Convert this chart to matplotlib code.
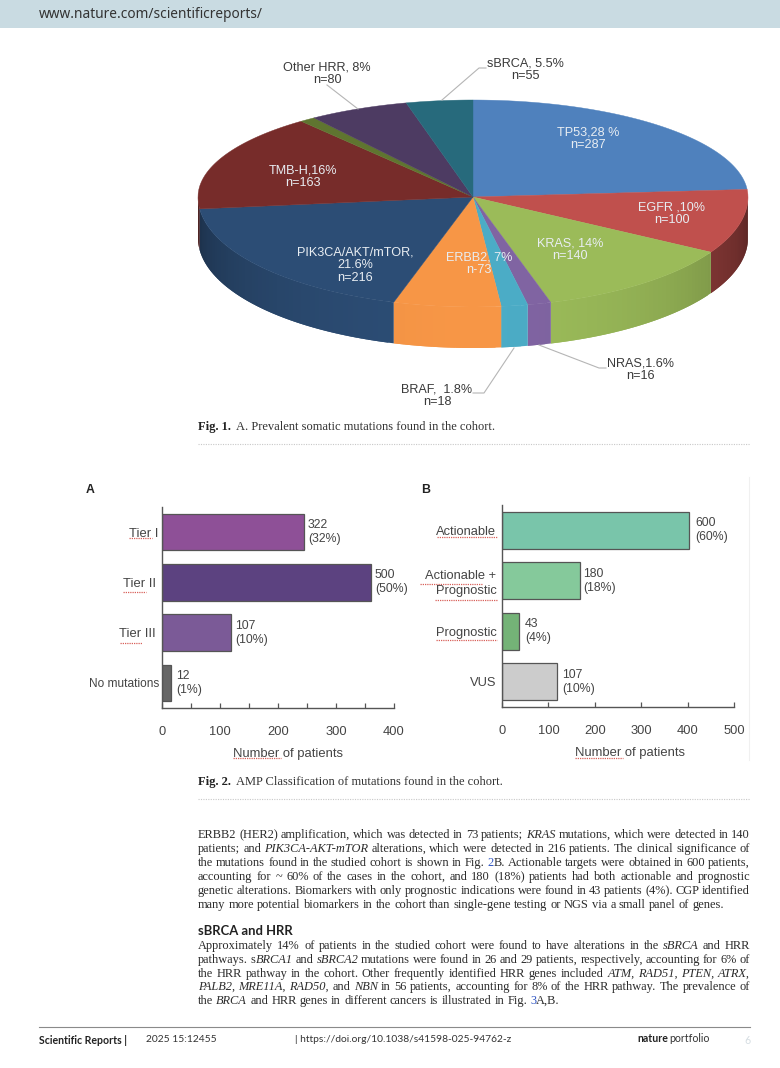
import re
import numpy as np
import matplotlib
matplotlib.use("Agg")
import matplotlib.pyplot as plt
from matplotlib.patches import Polygon, Rectangle

# pie data
pie_names = ["TP53", "EGFR", "KRAS", "NRAS", "BRAF", "ERBB2", "PIK3CA/AKT/mTOR", "TMB-H", "Other", "Other HRR", "sBRCA"]
pie_counts = [287, 100, 140, 16, 18, 73, 216, 163, 12, 80, 55]
pie_colors = ["#4f81bd", "#c0504d", "#9bbb59", "#8064a2", "#4bacc6", "#f79646",
              "#2c4d75", "#772c2a", "#5f7530", "#4d3b62", "#276a7c"]

# bar lengths as drawn on the axes, these differ from the printed labels in the figure
tier_names = ["Tier I", "Tier II", "Tier III", "No mutations"]
tier_lengths = [244, 360, 119, 16]
tier_labels = ["322\n(32%)", "500\n(50%)", "107\n(10%)", "12\n(1%)"]
tier_colors = ["#8e5097", "#5c4280", "#7b5a97", "#666666"]

class_names = ["Actionable", "Actionable +\nPrognostic", "Prognostic", "VUS"]
class_lengths = [403, 169, 37, 118]
class_labels = ["600\n(60%)", "180\n(18%)", "43\n(4%)", "107\n(10%)"]
class_colors = ["#79c5aa", "#85c99b", "#74b377", "#cccccc"]

para1 = [
    "ERBB2 (HER2) amplification, which was detected in 73 patients; *KRAS* mutations, which were detected in 140",
    "patients; and *PIK3CA-AKT-mTOR* alterations, which were detected in 216 patients. The clinical significance of",
    "the mutations found in the studied cohort is shown in Fig. {2}B. Actionable targets were obtained in 600 patients,",
    "accounting for ~ 60% of the cases in the cohort, and 180 (18%) patients had both actionable and prognostic",
    "genetic alterations. Biomarkers with only prognostic indications were found in 43 patients (4%). CGP identified",
    "many more potential biomarkers in the cohort than single-gene testing or NGS via a small panel of genes.",
]
para2 = [
    "Approximately 14% of patients in the studied cohort were found to have alterations in the *sBRCA* and HRR",
    "pathways. s*BRCA1* and *sBRCA2* mutations were found in 26 and 29 patients, respectively, accounting for 6% of",
    "the HRR pathway in the cohort. Other frequently identified HRR genes included *ATM,* *RAD51,* *PTEN,* *ATRX,*",
    "*PALB2,* *MRE11A,* *RAD50,* and *NBN* in 56 patients, accounting for 8% of the HRR pathway. The prevalence of",
    "the *BRCA* and HRR genes in different cancers is illustrated in Fig. {3}A,B.",
]

W, H = 780, 1068
fig = plt.figure(figsize=(W / 100, H / 100), dpi=100)
plt.rcParams['font.family'] = ['Liberation Sans', 'DejaVu Sans']

# whole page axes in pixel coordinates
pg = fig.add_axes([0, 0, 1, 1])
pg.set_xlim(0, W)
pg.set_ylim(H, 0)
pg.axis("off")

GREY = "#444444"
PIE_SIZE = 9.1


def box(x0, y0, x1, y1):
    return [x0 / W, 1 - y1 / H, (x1 - x0) / W, (y1 - y0) / H]


# header
pg.add_patch(Rectangle((0, 0), W, 28, color="#c9dbe2", lw=0))
pg.text(39, 14, "www.nature.com/scientificreports/", fontsize=9.85, color="#333333", va="center",
        family=["Noto Sans", "DejaVu Sans"])

# ---- 3D pie ----
cx, cy = 473, 197
rx, ry_back, ry_front = 275, 97, 110
depth = 41


def project(theta):
    # theta clockwise from 12 o'clock, back half squeezed like in a perspective view
    theta = np.asarray(theta, dtype=float)
    s, c = np.sin(theta), np.cos(theta)
    k = np.where(c > 0, 1 - 0.18 * c, 1.0)
    phi = np.where(c > 0, np.arcsin(k * s), np.pi - np.arcsin(s))
    x = cx + rx * np.sin(phi)
    y = cy - np.where(np.cos(phi) > 0, ry_back, ry_front) * np.cos(phi)
    return x, y


def shade(color, f):
    return tuple(np.array(matplotlib.colors.to_rgb(color)) * f)


edges = np.cumsum([0] + pie_counts) / sum(pie_counts) * 2 * np.pi

# side wall, only the front half can be seen
for i in range(len(pie_counts)):
    a0, a1 = max(edges[i], np.pi / 2), min(edges[i + 1], 1.5 * np.pi)
    if a1 <= a0:
        continue
    n = max(2, int((a1 - a0) / 0.02))
    ts = np.linspace(a0, a1, n + 1)
    xs, ys = project(ts)
    gain = 0.78 if pie_names[i] == "EGFR" else 1.0
    for j in range(n):
        tm = (ts[j] + ts[j + 1]) / 2
        f = (0.55 + 0.45 * abs(np.cos(tm)) ** 0.7) * gain
        # each strip runs on under the next one so no seams show
        e = min(j + 2, n)
        top = list(zip(xs[j:e + 1], ys[j:e + 1]))
        bottom = [(x, y + depth) for x, y in top[::-1]]
        pg.add_patch(Polygon(top + bottom, facecolor=shade(pie_colors[i], f), edgecolor="none"))

# top face
for i in range(len(pie_counts)):
    ts = np.linspace(edges[i], edges[i + 1], 80)
    xs, ys = project(ts)
    pts = [(cx, cy)] + list(zip(xs, ys))
    pg.add_patch(Polygon(pts, facecolor=pie_colors[i], edgecolor=pie_colors[i], lw=0.3))

white_labels = [
    (588, 139, "TP53,28 %\nn=287"),
    (672, 214, "EGFR ,10%\nn=100"),
    (570, 250, "KRAS, 14%\nn=140"),
    (479, 264, "ERBB2, 7%\nn-73"),
    (355, 265, "PIK3CA/AKT/mTOR,\n21.6%\nn=216"),
    (303, 177, "TMB-H,16%\nn=163"),
]
for x, y, s in white_labels:
    pg.text(x, y, s, color="#e8edf2", fontsize=PIE_SIZE, ha="center", va="center", linespacing=1.1)

dark_labels = [
    (327, 74, "Other HRR, 8%\nn=80"),
    (525, 70, "sBRCA, 5.5%\nn=55"),
    (640, 370, "NRAS,1.6%\nn=16"),
    (437, 396, "BRAF,  1.8%\nn=18"),
]
for x, y, s in dark_labels:
    pg.text(x, y, s, color="#3a3a3a", fontsize=PIE_SIZE, ha="center", va="center", linespacing=1.1)

leaders = [
    ([327, 358], [85, 109]),
    ([442, 479, 486], [100, 68, 68]),
    ([539, 599, 606], [345, 368, 368]),
    ([514, 484, 473], [348, 393, 393]),
]
for lx, ly in leaders:
    pg.plot(lx, ly, color="#b5b5b5", lw=0.8)

# ---- captions ----
serif = ["Liberation Serif", "DejaVu Serif"]
for y, tag, rest in [(427, "Fig. 1.", "A. Prevalent somatic mutations found in the cohort."),
                     (782, "Fig. 2.", "AMP Classification of mutations found in the cohort.")]:
    t = pg.text(198, y, tag, family=serif, fontweight="bold", fontsize=9.0, color="#222222", va="center")
    w = t.get_window_extent(fig.canvas.get_renderer()).width
    pg.text(198 + w + 5, y, rest, family=serif, fontsize=9.0, color="#333333", va="center")
pg.plot([198, 750], [444, 444], color="#c8c8c8", lw=0.8, ls=(0, (1, 1.2)))
pg.plot([198, 750], [799, 799], color="#c8c8c8", lw=0.8, ls=(0, (1, 1.2)))


# ---- bar panels ----
def bar_panel(rect, names, lengths, labels, colors, xmax, major, minor, offs, ysizes, ypads, labx):
    ax = fig.add_axes(rect)
    ax.barh(range(len(names)), lengths, height=0.725, color=colors, edgecolor="#555555", lw=0.9)
    ax.set_ylim(len(names) - 0.5, -0.5)
    ax.set_xlim(0, xmax)
    ax.set_yticks(range(len(names)), names)
    ax.set_xticks(major)
    ax.set_xticks(minor, minor=True)
    ax.tick_params(axis="y", length=0, labelcolor=GREY)
    ax.tick_params(axis="x", which="both", direction="in", length=3.5, width=0.9, color="#555555",
                   pad=13, labelsize=9.3, labelcolor=GREY)
    for tick, size, pad in zip(ax.yaxis.get_major_ticks(), ysizes, ypads):
        tick.set_pad(pad)
        tick.label1.set_fontsize(size)
        tick.label1.set_multialignment("right")
        tick.label1.set_linespacing(1.35)
    for side in ["top", "right"]:
        ax.spines[side].set_visible(False)
    for side in ["left", "bottom"]:
        ax.spines[side].set_color("#555555")
        ax.spines[side].set_linewidth(1.0)
    ax.set_xlabel("Number of patients", fontsize=9.4, color=GREY)
    ax.xaxis.set_label_coords(labx, -0.2, transform=ax.transAxes)
    ax.patch.set_alpha(0)
    for i, (v, s) in enumerate(zip(lengths, labels)):
        ax.annotate(s, xy=(v, i), xytext=(offs[i], 0), textcoords="offset points",
                    fontsize=8.8, color=GREY, va="center", ha="left", linespacing=1.2)
    return ax


bar_panel(box(162, 507, 394, 708), tier_names, tier_lengths, tier_labels, tier_colors,
          400, [0, 100, 200, 300, 400], [50, 150, 250, 350], [3.2, 3, 3, 3.5],
          [9.4, 9.4, 9.4, 8.6], [2.5, 4.5, 4.5, 2], 0.543)
bar_panel(box(502, 505, 734, 707), class_names, class_lengths, class_labels, class_colors,
          500, [0, 100, 200, 300, 400, 500], [], [4.3, 2.2, 4.2, 3.8],
          [9.3, 9.3, 9.3, 9.3], [4, 4, 4, 4], 0.552)

pg.text(90, 490, "A", fontweight="bold", fontsize=8.8, color="#222222", ha="center", va="center")
pg.text(426, 490, "B", fontweight="bold", fontsize=8.8, color="#222222", ha="center", va="center")
pg.plot([749, 749], [477, 760], color="#f0f0f0", lw=0.8)

# spell check squiggles from the original screenshot
squiggles = [(129, 152, 538), (123, 146, 592), (120, 142, 643), (233, 281, 758),
             (437, 497, 537), (420, 482, 584), (435, 497, 600), (436, 497, 640), (575, 623, 758)]
for x0, x1, y in squiggles:
    pg.plot([x0, x1], [y, y], color="#d8605a", lw=0.9, ls=(0, (1, 0.8)), zorder=5)


# ---- body text ----
def draw_line(line, y, justify=True, x0=198, x1=750, size=8.95):
    rend = fig.canvas.get_renderer()
    placed = []
    total = 0
    for word in line.split(" "):
        parts = []
        for piece in re.split(r"(\*[^*]+\*|\{[^}]+\})", word):
            if not piece:
                continue
            style, color = "normal", "#2b2b2b"
            if piece[0] == "*":
                piece, style = piece[1:-1], "italic"
            elif piece[0] == "{":
                piece, color = piece[1:-1], "#2f55c4"
            t = pg.text(0, y, piece, family=serif, fontsize=size, style=style, color=color, va="center")
            w = t.get_window_extent(rend).width
            parts.append((t, w))
            total += w
        placed.append(parts)
    gap = (x1 - x0 - total) / (len(placed) - 1) if justify else size * 100 / 72 * 0.25
    x = x0
    for parts in placed:
        for t, w in parts:
            t.set_x(x)
            x += w
        x += gap


ys1 = [835, 849, 863, 877, 891, 905]
ys2 = [946, 960, 974, 987, 1001]
for i, (line, y) in enumerate(zip(para1, ys1)):
    draw_line(line, y, justify=i < len(para1) - 1)
for i, (line, y) in enumerate(zip(para2, ys2)):
    draw_line(line, y, justify=i < len(para2) - 1)
pg.text(198, 931, "sBRCA and HRR", family=["Lato", "DejaVu Sans"], fontweight="bold", fontsize=9.4,
        color="#222222", va="center")

# ---- footer ----
foot = ["Lato", "DejaVu Sans"]
pg.plot([39, 750], [1027, 1027], color="#8a8a8a", lw=0.8)
pg.text(39, 1040, "Scientific Reports |", family=foot, fontweight="bold", fontsize=7.6, color="#222222", va="center")
pg.text(146, 1040, "2025 15:12455", family=foot, fontsize=7.4, color="#333333", va="center")
pg.text(295, 1040, "| https://doi.org/10.1038/s41598-025-94762-z", family=foot, fontsize=7.4, color="#333333", va="center")
pg.text(637, 1039, "nature", family=foot, fontweight="bold", fontsize=7.6, color="#222222", va="center")
pg.text(669, 1039, "portfolio", family=foot, fontsize=7.6, color="#333333", va="center")
pg.text(744, 1040, "6", family=foot, fontsize=7.6, color="#d5dde2", va="center")

fig.savefig("out.png", dpi=100, facecolor="white")
